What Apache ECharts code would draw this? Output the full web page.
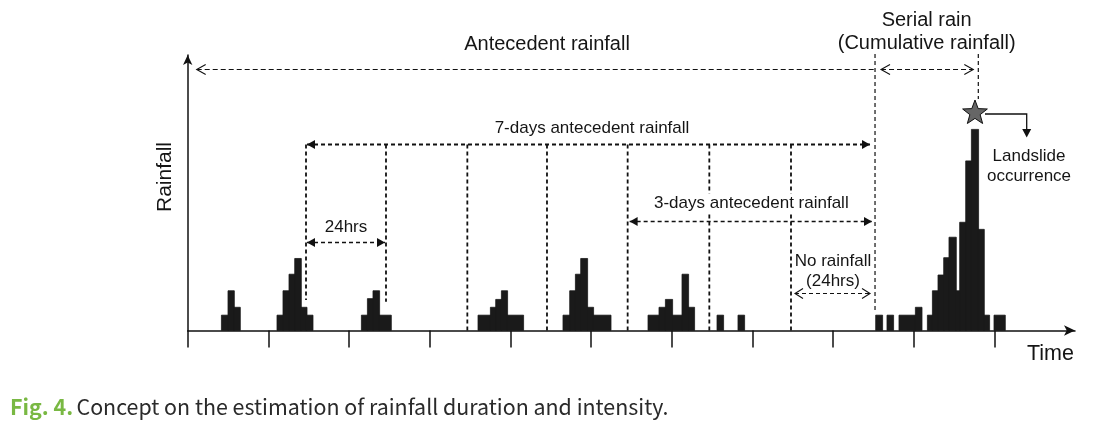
<!DOCTYPE html>
<html><head><meta charset="utf-8">
<script src="https://cdn.jsdelivr.net/npm/echarts@6/dist/echarts.min.js"></script>
<style>html,body{margin:0;padding:0;background:#fff}#c{width:1096px;height:431px}</style>
</head><body><div id="c"></div>
<script>
// Rainfall bars: start hour, end hour, rainfall (relative units)
const barStart = [10.12,12.08,13.78, 26.66,28.44,30.23,31.93,33.71,35.41, 51.77,53.56,55.22,57.01,
  86.47,90.15,91.73,93.43,95.09, 111.75,113.75,115.44,117.02,118.9,120.68,
  137.05,140.32,142.22,144.19,147.16,148.95, 157.58,163.82,
  204.79,208.15,211.72,216.6,220.17,221.66,223.33,225.02,226.6,228.59,229.78,231.57,233.26,235.23,236.92,239.99];
const barEnd = [12.08,13.78,15.56, 28.44,30.23,31.93,33.71,35.41,37.19, 53.56,55.22,57.01,60.49,
  90.15,91.73,93.43,95.09,99.85, 113.75,115.44,117.02,118.9,120.68,125.86,
  140.32,142.22,144.19,147.16,148.95,150.73, 159.36,165.61,
  206.67,209.94,216.6,218.39,221.66,223.33,225.02,226.6,228.59,229.78,231.57,233.26,235.23,236.92,238.5,243.17];
const barValue = [2,5.1,3, 2,5.1,7.2,9.2,3,2, 2,4.1,5.1,2,
  2,3,4,5.1,2, 2,5.1,7.2,9.2,3,2,
  2,3,4,2,7.2,3, 2,2,
  2,2,2,3,2,5.1,7.1,9.3,11.9,5.1,13.8,21.6,25.6,12.9,2,2];
// Time axis ticks (hours) and 24-hour window boundaries (hours)
const xTicks = [0,24,48,72,96,120,144,168,192,216,240];
const dayBoundaries = [35.2,59.0,83.2,106.9,130.9,155.2,179.5,204.5];
const captionLabel = 'Fig. 4.';
const captionText = 'Concept on the estimation of rainfall duration and intensity.';

const ink = '#111';
const bars = barStart.map((s,i)=>[s, barEnd[i], barValue[i]]);

const chart = echarts.init(document.getElementById('c'), null, {renderer:'canvas'});
chart.setOption({
  animation:false,
  backgroundColor:'#fff',
  grid:{left:187.7, right:21, top:55, bottom:100.5, containLabel:false, outerBoundsMode:'none'},
  xAxis:{type:'value', min:0, max:264,
    axisLine:{show:true, onZero:true, symbol:['none','arrow'], symbolSize:[8,11], lineStyle:{color:ink,width:1.5}},
    axisTick:{show:true, customValues:xTicks, length:17, inside:false, lineStyle:{color:ink,width:1.5}},
    axisLabel:{show:false}, splitLine:{show:false}},
  yAxis:{type:'value', min:0, max:35,
    axisLine:{show:true, symbol:['none','arrow'], symbolSize:[7,10], lineStyle:{color:ink,width:1.5}},
    axisTick:{show:false}, axisLabel:{show:false}, splitLine:{show:false}},
  series:[{
    type:'custom', data:bars, encode:{x:[0,1], y:2}, clip:false,
    renderItem:function(params, api){
      const p0 = api.coord([api.value(0), api.value(2)]);
      const p1 = api.coord([api.value(1), 0]);
      return {type:'rect', shape:{x:p0[0]-0.3, y:p0[1]+0.4, width:p1[0]-p0[0]+0.6, height:p1[1]-p0[1]-0.4},
        style:{fill:'#1a1a1a', stroke:'#1a1a1a', lineWidth:0.8}};
    }
  }]
});

const X = h => chart.convertToPixel({xAxisIndex:0}, h);
const Y = v => chart.convertToPixel({yAxisIndex:0}, v);
const G = [];
function dash(x1,y1,x2,y2,w,d){G.push({type:'line',silent:true,shape:{x1,y1,x2,y2},style:{stroke:ink,lineWidth:w,lineDash:d}});}
function tri(tx,ty,dir,len,hw){
  let pts;
  if(dir==='r') pts=[[tx,ty],[tx-len,ty-hw],[tx-len,ty+hw]];
  else if(dir==='l') pts=[[tx,ty],[tx+len,ty-hw],[tx+len,ty+hw]];
  else pts=[[tx,ty],[tx-hw,ty-len],[tx+hw,ty-len]];
  G.push({type:'polygon',silent:true,shape:{points:pts},style:{fill:ink}});
}
function chev(tx,ty,dir,len,hw,w){
  const s = dir==='r'?-1:1;
  G.push({type:'polyline',silent:true,shape:{points:[[tx+s*len,ty-hw],[tx,ty],[tx+s*len,ty+hw]]},style:{stroke:ink,lineWidth:w,fill:null}});
}
function txt(s,x,y,size,extra,styleExtra){
  G.push(Object.assign({type:'text',silent:true,x:x,y:y,z:10,style:Object.assign({text:s,font:size+'px "Liberation Sans", Arial, sans-serif',fill:'#151515',
    textAlign:'center',textVerticalAlign:'middle',align:'center',verticalAlign:'middle'},styleExtra||{})},extra||{}));
}

const bx = dayBoundaries.map(X);
const base = Y(0);
let pk = 0; barValue.forEach((v,i)=>{ if(v>barValue[pk]) pk=i; });
const lx = X(barEnd[pk]);
const sx = X((barStart[pk]+barEnd[pk])/2);
const sy = Y(barValue[pk]) - 16;

// Antecedent rainfall
const yA = 69.5;
dash(X(0)+9, yA, bx[7], yA, 1.1, [5,3]);
chev(X(0)+9, yA, 'l', 9, 5, 1.1);
txt('Antecedent rainfall', 547, 44, 20);
// serial rain
dash(bx[7], 54, bx[7], 313, 1.2, [4,3]);
dash(lx, 54, lx, sy-14, 1.2, [4,3]);
dash(bx[7]+6, yA, lx-5, yA, 1.1, [5,3]);
chev(bx[7]+6, yA, 'l', 9, 5, 1.1);
chev(lx-5, yA, 'r', 9, 5, 1.1);
txt('Serial rain', (bx[7]+lx)/2, 20, 20);
txt('(Cumulative rainfall)', (bx[7]+lx)/2, 43, 20);

// 7 days
const y7 = 144.5;
const vEnd = [300, 301.7, base, base, base, base, base];
for(let i=0;i<7;i++) dash(bx[i], y7, bx[i], vEnd[i], 1.8, [4,3]);
dash(bx[0]+1, y7, bx[7]-5, y7, 1.8, [4,3]);
tri(bx[0]+1, y7, 'l', 8, 4.5);
tri(bx[7]-5, y7, 'r', 8, 4.5);
txt('7-days antecedent rainfall', 592, 128, 17);

// 24hrs
const y24 = 242.5;
dash(bx[0]+1, y24, bx[1]-1, y24, 1.6, [4,3]);
tri(bx[0]+1, y24, 'l', 8, 4.5);
tri(bx[1]-1, y24, 'r', 8, 4.5);
txt('24hrs', (bx[0]+bx[1])/2, 227, 17);

// 3 days
const y3 = 221.5;
dash(bx[4]+2, y3, bx[7]-3, y3, 1.6, [4,3]);
tri(bx[4]+2, y3, 'l', 8, 4.5);
tri(bx[7]-3, y3, 'r', 8, 4.5);
txt('3-days antecedent rainfall', (bx[4]+bx[7])/2, 203, 17, null, {backgroundColor:'#fff', padding:[1,2]});

// No rainfall
const yN = 293.5;
dash(bx[6]+4, yN, bx[7]-5, yN, 1.1, [4,3]);
chev(bx[6]+4, yN, 'l', 8, 5, 1.1);
chev(bx[7]-5, yN, 'r', 8, 5, 1.1);
txt('No rainfall', (bx[6]+bx[7])/2, 261.7, 17);
txt('(24hrs)', (bx[6]+bx[7])/2, 281.7, 17);

// star + landslide pointer
const R = 13, r = 5.4, pts = [];
for(let k=0;k<10;k++){
  const a = -Math.PI/2 + k*Math.PI/5, rr = (k%2===0)?R:r;
  pts.push([sx + rr*Math.cos(a), sy + rr*Math.sin(a)]);
}
G.push({type:'polyline',silent:true,shape:{points:[[sx+10,sy+1],[1026.7,sy+1],[1026.7,130]]},style:{stroke:ink,lineWidth:1.3,fill:null}});
tri(1026.7, 137.5, 'd', 8.5, 4.5);
G.push({type:'polygon',silent:true,z:5,shape:{points:pts},style:{fill:'#666',stroke:'#111',lineWidth:1}});
txt('Landslide', 1029, 156.7, 17);
txt('occurrence', 1029, 176.7, 17);

// axis titles
txt('Rainfall', 165, 177, 21, {rotation:Math.PI/2});
txt('Time', 1050.5, 354, 21.5);

// caption
G.push({type:'text',silent:true,x:10,y:407,style:{
  text:'{a|'+captionLabel+'} {b|'+captionText+'}',
  textAlign:'left',textVerticalAlign:'middle',align:'left',verticalAlign:'middle',
  rich:{a:{fill:'#79b843',font:'bold 21.4px "Noto Sans CJK KR", "Noto Sans", sans-serif'},
        b:{fill:'#2a2a2a',font:'21.4px "Noto Sans CJK KR", "Noto Sans", sans-serif'}}
}});

chart.setOption({graphic:G});
</script>
</body></html>
